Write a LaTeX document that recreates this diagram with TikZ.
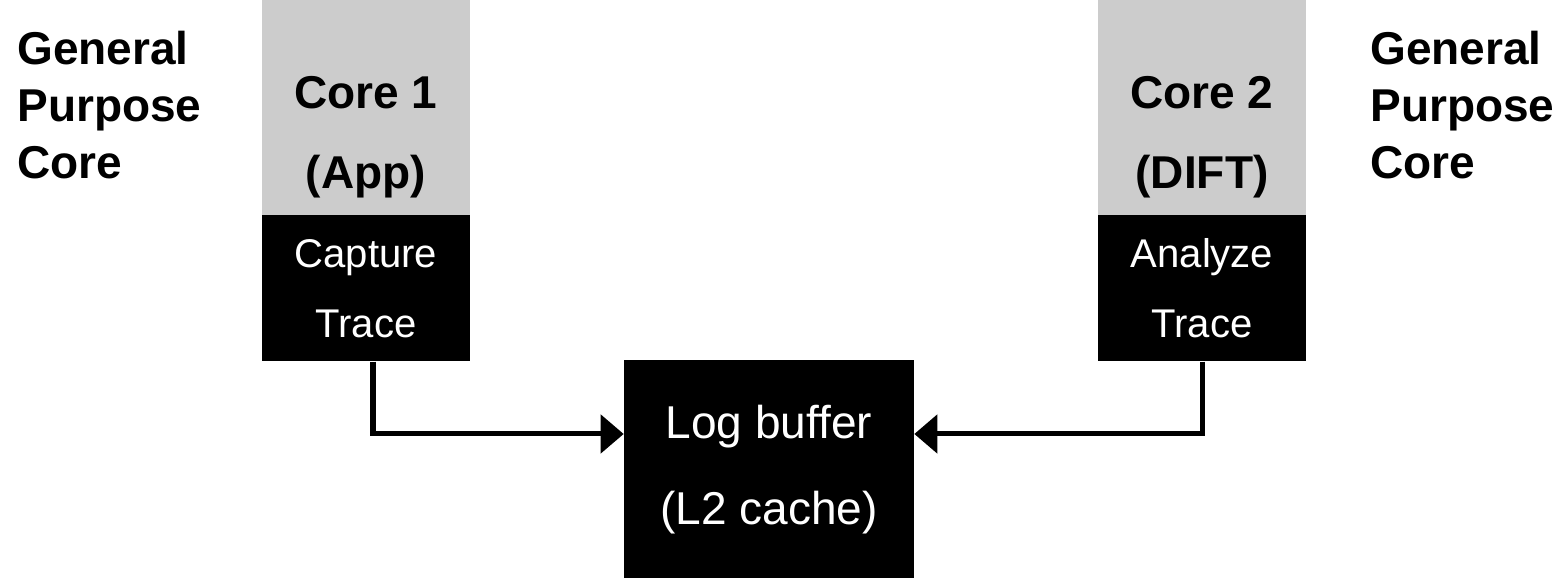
\documentclass[tikz,border=0pt]{standalone}
\usepackage{fontspec}
\setmainfont{Liberation Sans}
\usetikzlibrary{arrows.meta,positioning}

\begin{document}
\begin{tikzpicture}[x=0.02cm,y=-0.02cm,
    core_box/.style={fill=black!20, minimum width=4.16cm, minimum height=4.3cm, inner sep=0pt, anchor=north},
    head_text/.style={align=center, inner sep=0pt, anchor=north, font=\fontsize{26.2}{45.5}\selectfont\bfseries},
    trace_box/.style={fill=black, text=white, minimum width=4.16cm, minimum height=2.92cm, inner sep=0pt, anchor=north, align=center, font=\fontsize{22.8}{39.8}\selectfont},
    log_box/.style={fill=black, text=white, minimum width=5.8cm, minimum height=4.36cm, inner sep=0pt, anchor=north, align=center, font=\fontsize{26.2}{48.9}\selectfont},
    side_text/.style={align=left, inner sep=0pt, anchor=north west, font=\fontsize{26.2}{32.4}\selectfont\bfseries},
    link/.style={line width=2.85pt, -{Triangle[length=0.46cm,width=0.76cm]}}]

    \useasboundingbox (0,0) rectangle (1566,578);

    \node at (17,31) (left_label) [side_text] {General\\Purpose\\Core};
    \node at (1370,31) (right_label) [side_text] {General\\Purpose\\Core};

    \node at (366,0) (core_a) [core_box] {};
    \node at (366,76) (core_a_name) [head_text] {Core 1\\(App)};
    \node at (366,215) (trace_a) [trace_box] {Capture\\Trace};

    \node at (1202,0) (core_b) [core_box] {};
    \node at (1202,76) (core_b_name) [head_text] {Core 2\\(DIFT)};
    \node at (1202,215) (trace_b) [trace_box] {Analyze\\Trace};

    \node at (769,360) (log_buffer) [log_box] {Log buffer\\(L2 cache)};

    \draw [link] ([xshift=0.14cm]trace_a.south) |- ([yshift=-1.48cm]log_buffer.north west);
    \draw [link] (trace_b.south) |- ([yshift=-1.48cm]log_buffer.north east);

\end{tikzpicture}
\end{document}
